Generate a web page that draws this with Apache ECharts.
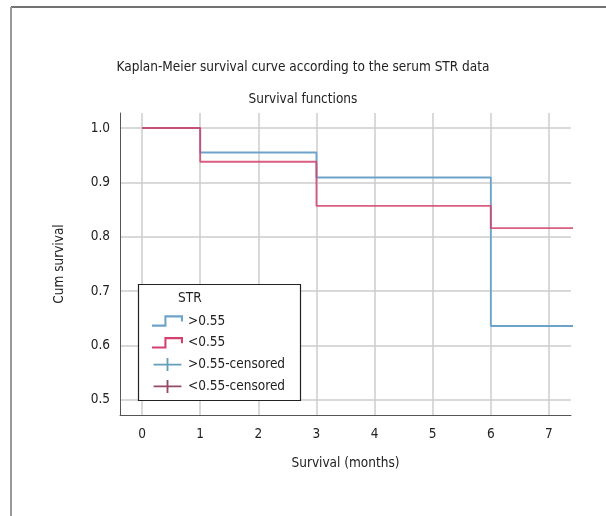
<!DOCTYPE html>
<html><head><meta charset="utf-8">
<script src="https://cdn.jsdelivr.net/npm/echarts@6/dist/echarts.min.js"></script>
<style>html,body{margin:0;padding:0;background:#fff}#c{width:606px;height:516px}</style>
</head><body><div id="c"></div>
<script>
const FONT = "'Liberation Sans Narrow','DejaVu Sans Condensed','Roboto Condensed',sans-serif";
const titleMain = 'Kaplan-Meier survival curve according to the serum STR data';
const titleSub = 'Survival functions';
const xName = 'Survival (months)';
const yName = 'Cum survival';
const xTicks = [0, 1, 2, 3, 4, 5, 6, 7];
const yTicks = [0.5, 0.6, 0.7, 0.8, 0.9, 1.0];
const groupNames = ['>0.55', '<0.55', '>0.55-censored', '<0.55-censored'];
const hiTimes = [0, 1, 3, 6, 7.5];
const hiSurv = [1.0, 0.955, 0.909, 0.636, 0.636];
const loTimes = [0, 1, 3, 6, 7.5];
const loSurv = [1.0, 0.938, 0.857, 0.816, 0.816];
const colors = ['#6ea3c9', '#d3416c', '#3f86a6', '#7a1c42'];

const stepIcon = 'path://M0,9 L12,9 L12,0 L30,0 L30,6 L28,6 L28,2 L14,2 L14,11 L0,11 Z';
const crossIcon = 'path://M0,6 L14,6 L14,0 L16,0 L16,6 L30,6 L30,8 L16,8 L16,14 L14,14 L14,8 L0,8 Z';

const chart = echarts.init(document.getElementById('c'), null, {renderer: 'canvas'});
const zip = (a, b) => a.map((v, i) => [v, b[i]]);
const FS = 13.5;
chart.setOption({
  backgroundColor: '#fff',
  animation: false,
  textStyle: {fontFamily: FONT},
  title: [
    {text: titleMain, left: 'center', top: 55, textStyle: {fontFamily: FONT, fontSize: FS, fontWeight: 'normal', color: '#222'}},
    {text: titleSub, left: 'center', top: 87, textStyle: {fontFamily: FONT, fontSize: FS, fontWeight: 'normal', color: '#222'}}
  ],
  grid: {left: 120, top: 113, right: 35, bottom: 101, containLabel: false},
  xAxis: {
    type: 'value', min: -0.38, max: 7.38,
    name: xName, nameLocation: 'middle', nameGap: 41,
    nameTextStyle: {fontFamily: FONT, fontSize: FS, color: '#222'},
    axisLine: {show: true, onZero: false, lineStyle: {color: '#555', width: 1}},
    axisTick: {show: false, customValues: xTicks},
    axisLabel: {customValues: xTicks, fontFamily: FONT, fontSize: FS, color: '#222', margin: 12},
    splitLine: {show: true, lineStyle: {color: '#cccccc', width: 1.5}}
  },
  yAxis: {
    type: 'value', min: 0.4724, max: 1.0276,
    name: yName, nameLocation: 'middle', nameGap: 54, nameRotate: 90,
    nameTextStyle: {fontFamily: FONT, fontSize: FS, color: '#222'},
    axisLine: {show: true, onZero: false, lineStyle: {color: '#555', width: 1}},
    axisTick: {show: false, customValues: yTicks},
    axisLabel: {customValues: yTicks, fontFamily: FONT, fontSize: FS, color: '#222', margin: 10,
      formatter: v => v.toFixed(1)},
    splitLine: {show: true, lineStyle: {color: '#cccccc', width: 1.5}}
  },
  legend: {
    orient: 'vertical', left: 152, top: 314, z: 20,
    itemWidth: 31, itemHeight: 13, itemGap: 7.8, padding: 0,
    textStyle: {fontFamily: FONT, fontSize: FS, color: '#222'},
    data: [
      {name: groupNames[0], icon: stepIcon},
      {name: groupNames[1], icon: stepIcon},
      {name: groupNames[2], icon: crossIcon},
      {name: groupNames[3], icon: crossIcon}
    ]
  },
  graphic: [
    {type: 'line', shape: {x1: 11, y1: 7, x2: 606, y2: 7}, style: {stroke: '#444', lineWidth: 1.5}, z: 1},
    {type: 'line', shape: {x1: 11, y1: 7, x2: 11, y2: 516}, style: {stroke: '#999', lineWidth: 2}, z: 1},
    {type: 'rect', shape: {x: 138.5, y: 284.5, width: 162, height: 116}, style: {fill: '#fff', stroke: '#222', lineWidth: 1.2}, z: 15},
    {type: 'text', left: 178, top: 291, z: 20, style: {text: 'STR', font: FS + 'px ' + FONT, fill: '#222'}}
  ],
  series: [
    {name: groupNames[0], type: 'line', step: 'end', data: zip(hiTimes, hiSurv), showSymbol: false, symbol: 'none',
      lineStyle: {color: colors[0], width: 1.8}, itemStyle: {color: colors[0]}, z: 3},
    {name: groupNames[1], type: 'line', step: 'end', data: zip(loTimes, loSurv), showSymbol: false, symbol: 'none',
      lineStyle: {color: colors[1], width: 1.8, opacity: 0.85}, itemStyle: {color: colors[1]}, z: 4},
    {name: groupNames[2], type: 'scatter', data: [], itemStyle: {color: colors[2]}},
    {name: groupNames[3], type: 'scatter', data: [], itemStyle: {color: colors[3]}}
  ]
});
</script></body></html>
